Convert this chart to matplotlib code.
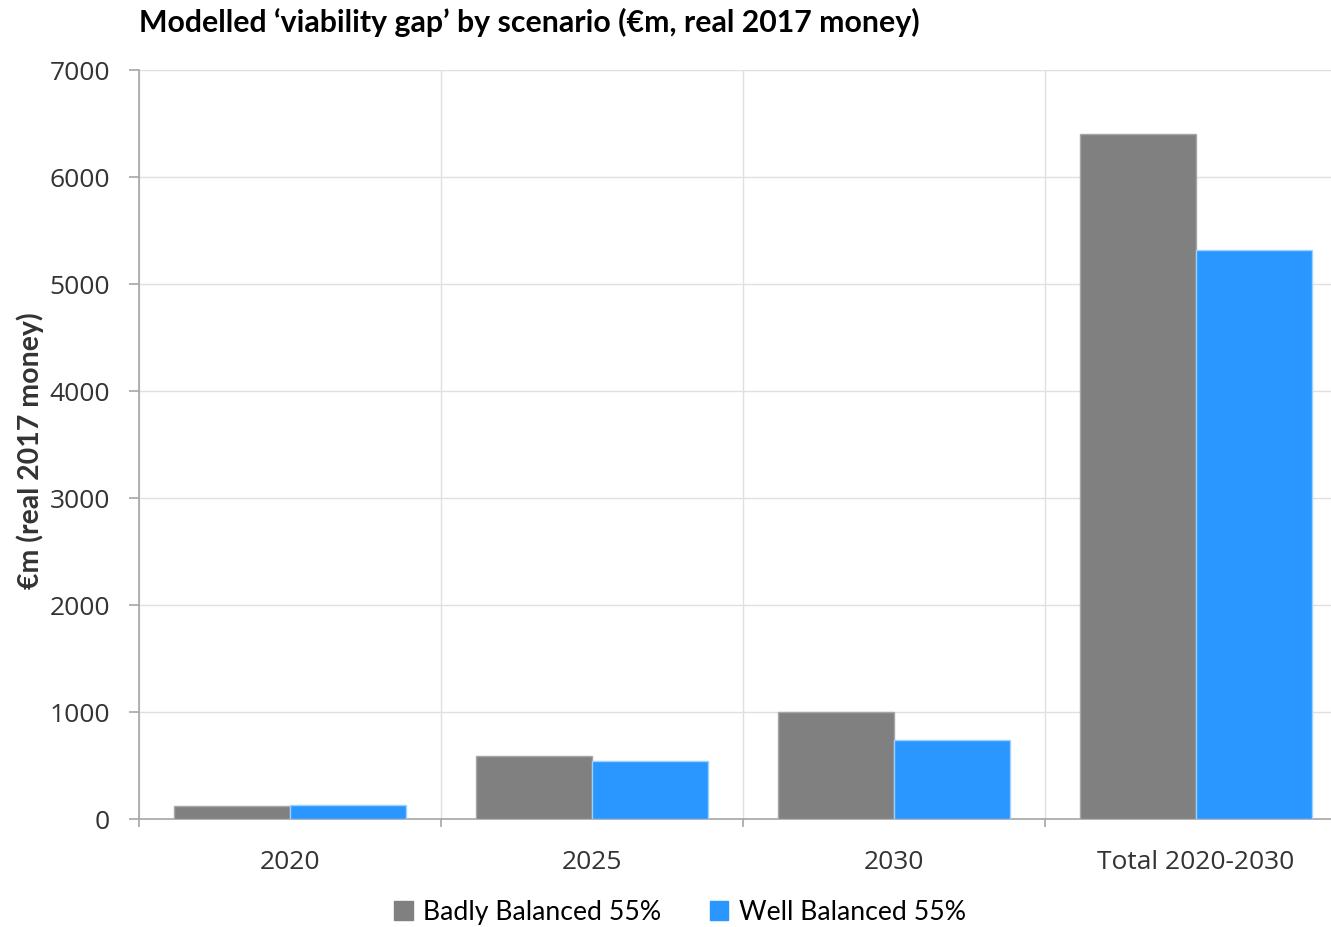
import matplotlib
matplotlib.use("Agg")
import matplotlib.pyplot as plt
from matplotlib.patches import Patch
import numpy as np

# valores del gráfico (€m, dinero real 2017)
categorias = ["2020", "2025", "2030", "Total 2020-2030"]
badly_balanced = [123, 590, 1000, 6400]
well_balanced = [127, 540, 740, 5320]
series = ["Badly Balanced 55%", "Well Balanced 55%"]
colores = ["#808080", "#2997ff"]
bordes = ["#a6a6a6", "#9fd0ff"]
y_ticks = [0, 1000, 2000, 3000, 4000, 5000, 6000, 7000]

W, H = 1331, 928
fig = plt.figure(figsize=(W / 100, H / 100), dpi=100)
# el eje se sale un poco por la derecha, como en el original
ax = fig.add_axes([139 / W, (H - 820) / H, (1347 - 139) / W, (820 - 71) / H])

x = np.arange(len(categorias))
ancho = 0.384
ax.bar(x - ancho / 2, badly_balanced, ancho, color=colores[0],
       edgecolor=bordes[0], linewidth=1, zorder=3)
ax.bar(x + ancho / 2, well_balanced, ancho, color=colores[1],
       edgecolor=bordes[1], linewidth=1, zorder=3)

ax.set_xlim(-0.5, len(categorias) - 0.5)
ax.set_ylim(0, 7000)
ax.set_yticks(y_ticks)
ax.set_yticklabels([str(v) for v in y_ticks], fontsize=19, color="#333333",
                   family="Open Sans")

# marcas en los límites de cada categoría, etiquetas en el centro
ax.set_xticks(np.arange(len(categorias) + 1) - 0.5)
ax.set_xticklabels([])
ax.set_xticks(x, minor=True)
ax.set_xticklabels(categorias, minor=True, fontsize=19, color="#333333",
                   family="Open Sans")
ax.tick_params(axis="x", which="major", length=6, color="#a6a6a6", width=1.2)
ax.tick_params(axis="x", which="minor", length=0, pad=21.5)
ax.tick_params(axis="y", length=7, color="#a6a6a6", width=1.2, pad=14)

ax.grid(True, which="major", color="#e0e0e0", linewidth=1, zorder=0)
for lado in ["top", "right"]:
    ax.spines[lado].set_visible(False)
for lado in ["left", "bottom"]:
    ax.spines[lado].set_color("#a6a6a6")
    ax.spines[lado].set_linewidth(1.2)

fig.text(139 / W, 1 - 22 / H, "Modelled \u2018viability gap\u2019 by scenario (\u20acm, real 2017 money)",
         fontsize=21.8, fontweight="bold", family="Lato", va="center", ha="left")
fig.text(30 / W, 1 - 451 / H, "\u20acm (real 2017 money)", rotation=90,
         fontsize=20.5, fontweight="bold", family="Lato", color="#333333",
         va="center", ha="center")

handles = [Patch(facecolor=c, edgecolor=c) for c in colores]
fig.legend(handles, series, loc="center", bbox_to_anchor=(680 / W, 1 - 913 / H),
           ncol=2, frameon=False, prop={"family": "Lato", "size": 19.2},
           handlelength=0.7, handleheight=0.7, handletextpad=0.4, columnspacing=1.8)

fig.savefig("out.png", dpi=100)
